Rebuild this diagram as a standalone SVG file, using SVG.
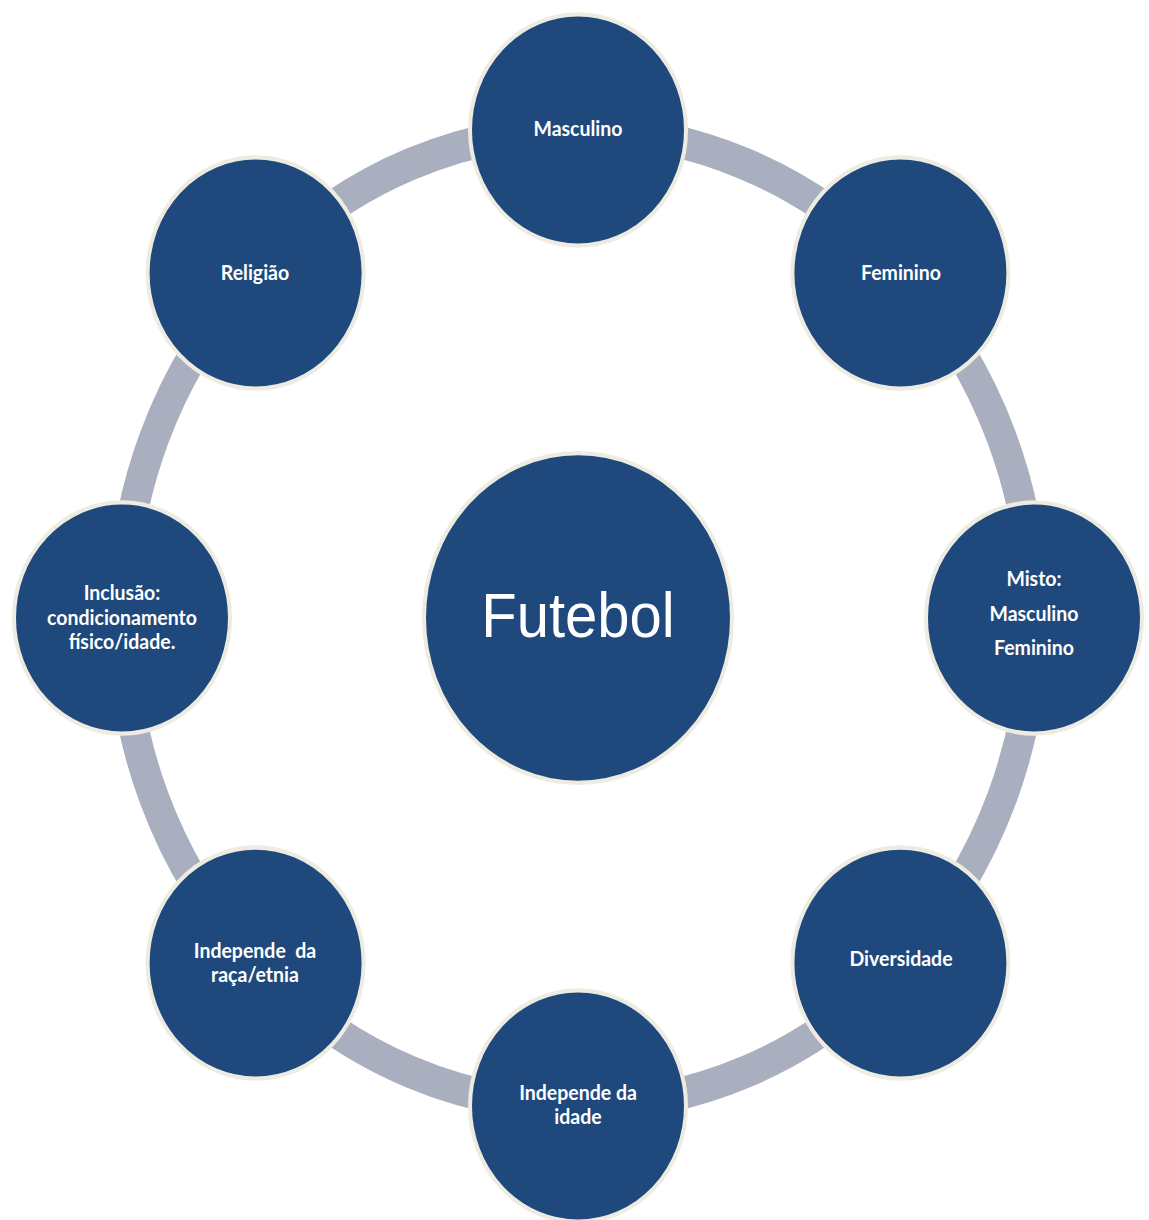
<svg xmlns="http://www.w3.org/2000/svg" width="1149" height="1220" viewBox="0 0 1149 1220">
  <style>
    .ring { fill: none; stroke: #a9afbf; stroke-width: 30; }
    .node { fill: #1f497d; stroke: #eeece1; stroke-width: 4; }
    .lbl { fill: #ffffff; font-family: Lato, "Liberation Sans", sans-serif; font-weight: bold; font-size: 19.5px; text-anchor: middle; }
    .hub { fill: #ffffff; font-family: "Liberation Sans", Arial, sans-serif; font-size: 58px; text-anchor: middle; }
  </style>
  <rect width="1149" height="1220" fill="#ffffff"/>
  <!-- whole layout is drawn on a circle, then stretched slightly in height -->
  <g transform="scale(1,1.0702)">
    <g id="connectors">
      <circle class="ring" cx="578" cy="577.5" r="456"/>
    </g>
    <g id="futebol">
      <circle class="node" cx="578" cy="577.5" r="154"/>
      <text class="hub" x="578" y="595">Futebol</text>
    </g>
    <g id="masculino">
      <circle class="node" cx="578" cy="121.5" r="108"/>
      <text class="lbl" x="578" y="127.1">Masculino</text>
    </g>
    <g id="feminino">
      <circle class="node" cx="900.4" cy="255.1" r="108"/>
      <text class="lbl" x="901" y="261.6">Feminino</text>
    </g>
    <g id="misto">
      <circle class="node" cx="1034" cy="577.5" r="108"/>
      <text class="lbl" x="1034" y="547.6">Misto:</text>
      <text class="lbl" x="1034" y="580.3">Masculino</text>
      <text class="lbl" x="1034" y="612">Feminino</text>
    </g>
    <g id="diversidade">
      <circle class="node" cx="900.4" cy="899.9" r="108"/>
      <text class="lbl" x="901" y="902.6">Diversidade</text>
    </g>
    <g id="independe-idade">
      <circle class="node" cx="578" cy="1033.5" r="108"/>
      <text class="lbl" x="578" y="1027.8">Independe da</text>
      <text class="lbl" x="578" y="1050.3">idade</text>
    </g>
    <g id="independe-raca">
      <circle class="node" cx="255.6" cy="899.9" r="108"/>
      <text class="lbl" x="255" y="895.2" xml:space="preserve">Independe  da</text>
      <text class="lbl" x="255" y="917.6">raça/etnia</text>
    </g>
    <g id="inclusao">
      <circle class="node" cx="122" cy="577.5" r="108"/>
      <text class="lbl" x="122" y="560.6">Inclusão:</text>
      <text class="lbl" x="122" y="584">condicionamento</text>
      <text class="lbl" x="122" y="606.4">físico/idade.</text>
    </g>
    <g id="religiao">
      <circle class="node" cx="255.6" cy="255.1" r="108"/>
      <text class="lbl" x="255" y="261.6">Religião</text>
    </g>
  </g>
</svg>
